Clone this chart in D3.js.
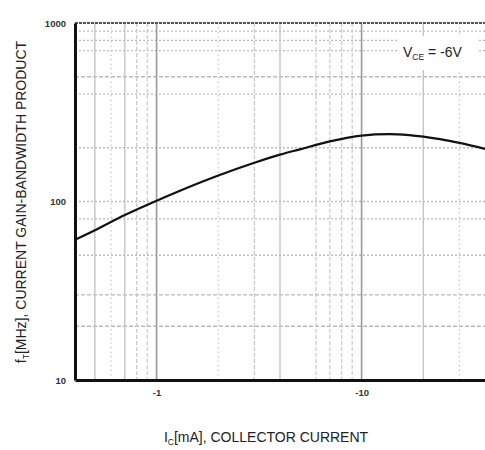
<!DOCTYPE html>
<html>
<head>
<meta charset="utf-8">
<script src="https://cdn.jsdelivr.net/npm/d3@7/dist/d3.min.js"></script>
<style>
  body { margin: 0; background: #fff; }
  text { font-family: "Liberation Sans", Arial, sans-serif; fill: #222; }
</style>
</head>
<body>
<div id="chart"></div>
<script>
// Data (Ic in mA, magnitude; fT in MHz)
var current = [0.4, 0.5, 0.7, 1, 1.5, 2, 3, 4, 5, 7, 10, 15, 20, 30, 40];
var fT = [61, 69, 84, 101, 123, 140, 165, 183, 196, 217, 234, 238, 231, 213, 197];

var xTickValues = [1, 10];
var xTickLabels = ["-1", "-10"];
var yTickValues = [10, 100, 1000];
var yTickLabels = ["10", "100", "1000"];

// grid lines, grouped by how they look in the scan
var xGridSolid = [0.5, 0.7, 4, 20];
var xGridDashed = [0.8, 0.9, 3, 6, 7, 8, 9];
var xGridDotted = [0.6, 2, 30];
var xGridMajor = [1, 10];
var yGridDashed = [500, 30, 20];
var yGridDotted = [900, 800, 700, 400, 200, 100, 80, 50];

var width = 485;
var height = 450;
var margin = {left: 75, top: 23, right: 0, bottom: 70};

var svg = d3.select("#chart").append("svg")
    .attr("width", width)
    .attr("height", height);

var x = d3.scaleLog()
    .domain([0.4, 40])
    .range([margin.left, width - margin.right]);

var y = d3.scaleLog()
    .domain([10, 1000])
    .range([height - margin.bottom, margin.top]);

var grid = svg.append("g");

function vLines(values, color, dash, w) {
    grid.selectAll(null)
        .data(values)
        .enter().append("line")
        .attr("x1", function(d) { return x(d); })
        .attr("x2", function(d) { return x(d); })
        .attr("y1", y(1000))
        .attr("y2", y(10))
        .style("stroke", color)
        .style("stroke-width", w)
        .style("stroke-dasharray", dash);
}

function hLines(values, color, dash, w) {
    grid.selectAll(null)
        .data(values)
        .enter().append("line")
        .attr("x1", x(0.4))
        .attr("x2", x(40))
        .attr("y1", function(d) { return y(d); })
        .attr("y2", function(d) { return y(d); })
        .style("stroke", color)
        .style("stroke-width", w)
        .style("stroke-dasharray", dash);
}

hLines(yGridDotted, "#bbb", "2,2", 1.3);
hLines(yGridDashed, "#bbb", "4,2", 1.3);
vLines(xGridDotted, "#c8c8c8", "1.5,3", 1.2);
vLines(xGridDashed, "#c8c8c8", "4,2", 1.2);
vLines(xGridSolid, "#c0c0c0", null, 1.3);
vLines(xGridMajor, "#999", null, 1.6);

// top border (1000 line)
svg.append("line")
    .attr("x1", x(0.4)).attr("x2", x(40))
    .attr("y1", y(1000)).attr("y2", y(1000))
    .style("stroke", "#555")
    .style("stroke-width", 2)
    .style("stroke-dasharray", "3,1");

// curve
var line = d3.line()
    .x(function(d, i) { return x(current[i]); })
    .y(function(d) { return y(d); })
    .curve(d3.curveCatmullRom.alpha(0.5));

svg.append("path")
    .datum(fT)
    .attr("d", line)
    .style("fill", "none")
    .style("stroke", "#111")
    .style("stroke-width", 2.2);

// axes
var xAxis = d3.axisBottom(x)
    .tickValues(xTickValues)
    .tickSize(0)
    .tickPadding(9)
    .tickFormat(function(d, i) { return xTickLabels[i]; });

var yAxis = d3.axisLeft(y)
    .tickValues(yTickValues)
    .tickSize(0)
    .tickPadding(9)
    .tickFormat(function(d, i) { return yTickLabels[i]; });

var gx = svg.append("g")
    .attr("transform", "translate(0," + y(10) + ")")
    .call(xAxis);
gx.select(".domain").style("stroke", "#111").style("stroke-width", 3);
gx.selectAll("text").style("font-size", "9.5px").style("font-weight", "bold").style("fill", "#333");

var gy = svg.append("g")
    .attr("transform", "translate(" + x(0.4) + ",0)")
    .call(yAxis);
gy.select(".domain").style("stroke", "#111").style("stroke-width", 3);
gy.selectAll("text").style("font-size", "9.5px").style("font-weight", "bold").style("fill", "#333");

// annotation, with the grid blanked behind it as in the scan
svg.append("rect")
    .attr("x", 398).attr("y", 36)
    .attr("width", 80).attr("height", 34)
    .style("fill", "#fff");
var note = svg.append("text")
    .attr("x", 403)
    .attr("y", 57)
    .style("font-size", "14px");
note.append("tspan").text("V");
note.append("tspan").attr("dy", 3).style("font-size", "8.5px").text("CE");
note.append("tspan").attr("dy", -3).text(" = -6V");

// axis titles
var xt = svg.append("text")
    .attr("x", 266)
    .attr("y", 442)
    .attr("text-anchor", "middle")
    .style("font-size", "14px");
xt.append("tspan").text("I");
xt.append("tspan").attr("dy", 3).style("font-size", "8.5px").text("C");
xt.append("tspan").attr("dy", -3).text("[mA], COLLECTOR CURRENT");

var yt = svg.append("text")
    .attr("transform", "translate(26,202) rotate(-90)")
    .attr("text-anchor", "middle")
    .style("font-size", "14px");
yt.append("tspan").text("f");
yt.append("tspan").attr("dy", 3).style("font-size", "8.5px").text("T");
yt.append("tspan").attr("dy", -3).text("[MHz], CURRENT GAIN-BANDWIDTH PRODUCT");
</script>
</body>
</html>
